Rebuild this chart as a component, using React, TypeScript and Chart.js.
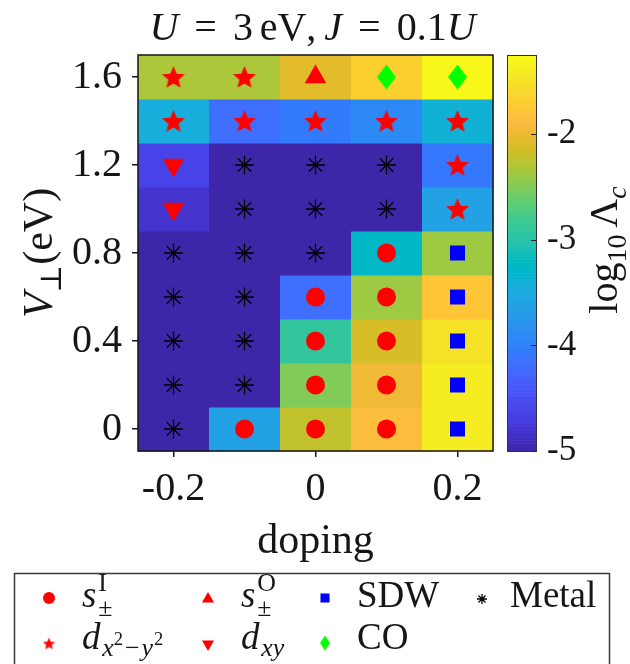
import React, { useEffect, useRef } from 'react';
import { Chart, registerables } from 'chart.js';
import { drawPoint } from 'chart.js/helpers';

Chart.register(...registerables);

// ---------- data ----------
const doping = [-0.2, -0.1, 0, 0.1, 0.2];
const vPerp = [0, 0.2, 0.4, 0.6, 0.8, 1.0, 1.2, 1.4, 1.6];

// log10 Λc for each V⊥ row (columns follow `doping`)
const logL_V00 = [-5.0, -3.61, -2.22, -1.85, -1.40];
const logL_V02 = [-5.0, -5.0, -2.50, -1.96, -1.40];
const logL_V04 = [-5.0, -5.0, -2.90, -2.11, -1.49];
const logL_V06 = [-5.0, -5.0, -4.17, -2.38, -1.76];
const logL_V08 = [-5.0, -5.0, -5.0, -3.24, -2.38];
const logL_V10 = [-4.81, -5.0, -5.0, -5.0, -3.61];
const logL_V12 = [-4.62, -5.0, -5.0, -5.0, -4.08];
const logL_V14 = [-3.45, -4.17, -4.05, -3.91, -3.39];
const logL_V16 = [-2.32, -2.32, -2.05, -1.67, -1.29];
const logLambda = [logL_V00, logL_V02, logL_V04, logL_V06, logL_V08, logL_V10, logL_V12, logL_V14, logL_V16];

// dominant phase per cell
const phase_V00 = ['Metal', 'sI', 'sI', 'sI', 'SDW'];
const phase_V02 = ['Metal', 'Metal', 'sI', 'sI', 'SDW'];
const phase_V04 = ['Metal', 'Metal', 'sI', 'sI', 'SDW'];
const phase_V06 = ['Metal', 'Metal', 'sI', 'sI', 'SDW'];
const phase_V08 = ['Metal', 'Metal', 'Metal', 'sI', 'SDW'];
const phase_V10 = ['dxy', 'Metal', 'Metal', 'Metal', 'dx2'];
const phase_V12 = ['dxy', 'Metal', 'Metal', 'Metal', 'dx2'];
const phase_V14 = ['dx2', 'dx2', 'dx2', 'dx2', 'dx2'];
const phase_V16 = ['dx2', 'dx2', 'sO', 'CO', 'CO'];
const phases = [phase_V00, phase_V02, phase_V04, phase_V06, phase_V08, phase_V10, phase_V12, phase_V14, phase_V16];

const xTicks = [-0.2, 0, 0.2];
const xTickLabels = ['-0.2', '0', '0.2'];
const yTicks = [0, 0.4, 0.8, 1.2, 1.6];
const yTickLabels = ['0', '0.4', '0.8', '1.2', '1.6'];
const cbTicks = [-5, -4, -3, -2];
const cbTickLabels = ['-5', '-4', '-3', '-2'];
const cbMin = -5;
const cbMax = -1.25;

// ---------- styling ----------
const SERIF = "'Liberation Serif', 'DejaVu Serif', serif";
const INK = '#161616';

const PARULA: number[][] = [
  [0.2422, 0.1504, 0.6603], [0.2504, 0.165, 0.7076], [0.2578, 0.1818, 0.7511], [0.2647, 0.1978, 0.7952],
  [0.2706, 0.2147, 0.8364], [0.2751, 0.2342, 0.871], [0.2783, 0.2559, 0.8991], [0.2803, 0.2782, 0.9221],
  [0.2813, 0.3006, 0.9414], [0.281, 0.3228, 0.9579], [0.2795, 0.3447, 0.9717], [0.276, 0.3667, 0.9829],
  [0.2699, 0.3892, 0.9906], [0.2602, 0.4123, 0.9952], [0.244, 0.4358, 0.9988], [0.2206, 0.4603, 0.9973],
  [0.1963, 0.4847, 0.9892], [0.1834, 0.5074, 0.9798], [0.1786, 0.5289, 0.9682], [0.1764, 0.5499, 0.952],
  [0.1687, 0.5703, 0.9359], [0.154, 0.5902, 0.9218], [0.146, 0.6091, 0.9079], [0.138, 0.6276, 0.8973],
  [0.1248, 0.6459, 0.8883], [0.1113, 0.6635, 0.8763], [0.0952, 0.6798, 0.8598], [0.0689, 0.6948, 0.8394],
  [0.0297, 0.7082, 0.8163], [0.0036, 0.7199, 0.7913], [0.0067, 0.73, 0.7659], [0.0433, 0.7394, 0.7394],
  [0.0964, 0.75, 0.712], [0.1408, 0.7584, 0.6842], [0.1717, 0.767, 0.6554], [0.1938, 0.7758, 0.6251],
  [0.2161, 0.7843, 0.5923], [0.247, 0.7918, 0.5567], [0.2906, 0.7973, 0.5188], [0.3406, 0.8008, 0.4789],
  [0.3909, 0.8029, 0.4354], [0.4456, 0.8024, 0.3909], [0.5044, 0.7993, 0.348], [0.5616, 0.7942, 0.3045],
  [0.6174, 0.7876, 0.2612], [0.672, 0.7793, 0.2227], [0.7242, 0.7698, 0.191], [0.7738, 0.7598, 0.1646],
  [0.8203, 0.7498, 0.1535], [0.8634, 0.7406, 0.1596], [0.9035, 0.733, 0.1774], [0.9393, 0.7288, 0.21],
  [0.9728, 0.7298, 0.2394], [0.9956, 0.7434, 0.2371], [0.997, 0.7659, 0.2199], [0.9952, 0.7893, 0.2028],
  [0.9892, 0.8136, 0.1885], [0.9786, 0.8386, 0.1766], [0.9676, 0.8639, 0.1643], [0.961, 0.889, 0.1537],
  [0.9597, 0.9135, 0.1423], [0.9628, 0.9373, 0.1265], [0.9691, 0.9606, 0.1064], [0.9769, 0.9839, 0.0805],
];

function parula(v: number): string {
  let t = (v - cbMin) / (cbMax - cbMin);
  t = Math.max(0, Math.min(1, t));
  const f = t * (PARULA.length - 1);
  const i = Math.min(PARULA.length - 2, Math.floor(f));
  const u = f - i;
  const c = PARULA[i].map((a, k) => Math.round(255 * (a + (PARULA[i + 1][k] - a) * u)));
  return `rgb(${c[0]},${c[1]},${c[2]})`;
}

function makeStar(R: number, ratio: number, color: string): HTMLCanvasElement {
  const s = Math.ceil(R * 2 + 2);
  const c = document.createElement('canvas');
  c.width = s;
  c.height = s;
  const g = c.getContext('2d')!;
  g.fillStyle = color;
  g.beginPath();
  for (let i = 0; i < 10; i++) {
    const a = -Math.PI / 2 + (i * Math.PI) / 5;
    const r = i % 2 ? R * ratio : R;
    g.lineTo(s / 2 + r * Math.cos(a), s / 2 + 1 + r * Math.sin(a));
  }
  g.closePath();
  g.fill();
  return c;
}

function makeDiamond(w: number, h: number, color: string): HTMLCanvasElement {
  const c = document.createElement('canvas');
  c.width = w;
  c.height = h;
  const g = c.getContext('2d')!;
  g.fillStyle = color;
  g.beginPath();
  g.moveTo(w / 2, 0);
  g.lineTo(w, h / 2);
  g.lineTo(w / 2, h);
  g.lineTo(0, h / 2);
  g.closePath();
  g.fill();
  return c;
}

type Seg = { t: string; it?: boolean; sc?: number; dy?: number; dx?: number; over?: boolean };

function fontOf(size: number, it?: boolean) {
  return `${it ? 'italic ' : ''}${size}px ${SERIF}`;
}

function richWidth(ctx: CanvasRenderingContext2D, segs: Seg[], size: number) {
  let w = 0;
  let pending = 0;
  for (const s of segs) {
    ctx.font = fontOf(size * (s.sc ?? 1), s.it);
    const sw = ctx.measureText(s.t).width;
    w += (s.dx ?? 0) * size;
    if (s.over) pending = Math.max(pending, sw);
    else {
      w += Math.max(pending, sw);
      pending = 0;
    }
  }
  return w + pending;
}

function drawRich(ctx: CanvasRenderingContext2D, segs: Seg[], x: number, y: number, size: number, align: 'left' | 'center') {
  let cx = align === 'center' ? x - richWidth(ctx, segs, size) / 2 : x;
  ctx.textAlign = 'left';
  ctx.textBaseline = 'alphabetic';
  let pending = 0;
  for (const s of segs) {
    ctx.font = fontOf(size * (s.sc ?? 1), s.it);
    cx += (s.dx ?? 0) * size;
    const sw = ctx.measureText(s.t).width;
    ctx.fillText(s.t, cx, y + (s.dy ?? 0) * size);
    if (s.over) pending = Math.max(pending, sw);
    else {
      cx += Math.max(pending, sw);
      pending = 0;
    }
  }
}

const titleSegs: Seg[] = [
  { t: 'U', it: true }, { t: '=', dx: 0.4 }, { t: '3', dx: 0.4 }, { t: 'eV', dx: 0.17 }, { t: ',' },
  { t: 'J', it: true, dx: 0.2 }, { t: '=', dx: 0.4 }, { t: '0.1', dx: 0.4 }, { t: 'U', it: true },
];
const yLabelSegs: Seg[] = [{ t: 'V', it: true }, { t: '\u22A5', sc: 0.7, dy: 0.22 }, { t: '(eV)' }];
const cbLabelSegs: Seg[] = [
  { t: 'log' }, { t: '10', sc: 0.7, dy: 0.22 }, { t: '\u039B', dx: 0.17 }, { t: 'c', it: true, sc: 0.7, dy: 0.22 },
];

export default function App() {
  const ref = useRef<HTMLCanvasElement | null>(null);

  useEffect(() => {
    const canvas = ref.current;
    if (!canvas) return;

    const starBig = makeStar(12, 0.45, '#ff0000');
    const starSmall = makeStar(6.5, 0.45, '#ff0000');
    const diamondBig = makeDiamond(19, 25, '#00ff00');
    const diamondSmall = makeDiamond(10, 15, '#00ff00');

    const styles: Record<string, any> = {
      sI: { pointStyle: 'circle', radius: 9.5, legendRadius: 6, rotation: 0, fill: '#ff0000', stroke: '#ff0000', bw: 0 },
      sO: { pointStyle: 'triangle', radius: 12.5, legendRadius: 7, rotation: 0, fill: '#ff0000', stroke: '#ff0000', bw: 0 },
      SDW: { pointStyle: 'rect', radius: 10.6, legendRadius: 6.4, rotation: 0, fill: '#0000ff', stroke: '#0000ff', bw: 0 },
      Metal: { pointStyle: 'star', radius: 9.5, legendRadius: 5, rotation: 0, fill: '#000', stroke: '#000', bw: 1.3 },
      dx2: { pointStyle: starBig, legendStyle: starSmall, radius: 12, legendRadius: 6, rotation: 0, fill: '#ff0000', stroke: '#ff0000', bw: 0 },
      dxy: { pointStyle: 'triangle', radius: 12.5, legendRadius: 7, rotation: 180, fill: '#ff0000', stroke: '#ff0000', bw: 0 },
      CO: { pointStyle: diamondBig, legendStyle: diamondSmall, radius: 12, legendRadius: 7, rotation: 0, fill: '#00ff00', stroke: '#00ff00', bw: 0 },
    };

    const datasets = Object.keys(styles).map((key) => {
      const st = styles[key];
      const pts: { x: number; y: number }[] = [];
      phases.forEach((row, r) => row.forEach((p, c) => {
        if (p === key) pts.push({ x: doping[c], y: vPerp[r] });
      }));
      return {
        label: key,
        data: pts,
        pointStyle: st.pointStyle,
        pointRadius: st.radius,
        pointRotation: st.rotation,
        backgroundColor: st.fill,
        borderColor: st.stroke,
        pointBorderWidth: st.bw,
        borderWidth: st.bw,
      };
    });

    const decor = {
      id: 'decor',
      beforeDatasetsDraw(chart: any) {
        const { ctx, chartArea } = chart;
        const xs = chart.scales.x;
        const ys = chart.scales.y;
        const cb = chart.scales.cb;
        const hx = (doping[1] - doping[0]) / 2;
        const hy = (vPerp[1] - vPerp[0]) / 2;
        ctx.save();
        vPerp.forEach((v, r) => doping.forEach((d, c) => {
          const x0 = Math.round(xs.getPixelForValue(d - hx));
          const x1 = Math.round(xs.getPixelForValue(d + hx));
          const y0 = Math.round(ys.getPixelForValue(v + hy));
          const y1 = Math.round(ys.getPixelForValue(v - hy));
          ctx.fillStyle = parula(logLambda[r][c]);
          ctx.fillRect(x0, y0, x1 - x0 + 0.5, y1 - y0 + 0.5);
        }));
        // colorbar
        const cbL = chartArea.right + 14;
        const cbW = 29;
        const N = 256;
        for (let i = 0; i < N; i++) {
          const v0 = cbMin + ((cbMax - cbMin) * i) / N;
          const v1 = cbMin + ((cbMax - cbMin) * (i + 1)) / N;
          const ya = cb.getPixelForValue(v1);
          const yb = cb.getPixelForValue(v0);
          ctx.fillStyle = parula((v0 + v1) / 2);
          ctx.fillRect(cbL, ya, cbW, yb - ya + 0.6);
        }
        ctx.strokeStyle = '#333';
        ctx.lineWidth = 1;
        ctx.strokeRect(cbL + 0.5, chartArea.top + 0.5, cbW, chartArea.bottom - chartArea.top);
        ctx.strokeStyle = '#222';
        ctx.lineWidth = 1;
        cbTicks.forEach((t) => {
          const y = Math.round(cb.getPixelForValue(t)) + 0.5;
          ctx.beginPath();
          ctx.moveTo(cbL + cbW - 5, y);
          ctx.lineTo(cbL + cbW, y);
          ctx.stroke();
        });
        ctx.restore();
      },
      afterDatasetsDraw(chart: any) {
        const { ctx, chartArea } = chart;
        ctx.save();
        ctx.strokeStyle = INK;
        ctx.lineWidth = 1.5;
        ctx.strokeRect(chartArea.left, chartArea.top, chartArea.right - chartArea.left, chartArea.bottom - chartArea.top);
        ctx.fillStyle = INK;
        // title
        drawRich(ctx, titleSegs, (chartArea.left + chartArea.right) / 2 - 3, 40, 40, 'center');
        // x label
        ctx.font = fontOf(42);
        ctx.textAlign = 'center';
        ctx.textBaseline = 'alphabetic';
        ctx.fillText('doping', (chartArea.left + chartArea.right) / 2, 553);
        // y label
        ctx.save();
        ctx.translate(52, (chartArea.top + chartArea.bottom) / 2);
        ctx.rotate(-Math.PI / 2);
        drawRich(ctx, yLabelSegs, 0, 0, 42, 'center');
        ctx.restore();
        // colorbar label
        ctx.save();
        ctx.translate(617, 250);
        ctx.rotate(-Math.PI / 2);
        drawRich(ctx, cbLabelSegs, 0, 0, 40, 'center');
        ctx.restore();

        // legend
        ctx.strokeStyle = '#3a3a3a';
        ctx.lineWidth = 1.5;
        ctx.strokeRect(14.5, 573.5, 595, 140);
        const LS = 37;
        const legendItems: { key: string; mx: number; my: number; tx: number; ty: number; segs: Seg[] }[] = [
          { key: 'sI', mx: 49, my: 598, tx: 82, ty: 607, segs: [{ t: 's', it: true }, { t: 'I', sc: 0.7, dy: -0.42, dx: 0.05, over: true }, { t: '\u00B1', sc: 0.7, dy: 0.24 }] },
          { key: 'sO', mx: 208, my: 599, tx: 241, ty: 607, segs: [{ t: 's', it: true }, { t: 'O', sc: 0.7, dy: -0.42, dx: 0.05, over: true }, { t: '\u00B1', sc: 0.7, dy: 0.24 }] },
          { key: 'SDW', mx: 325, my: 598, tx: 357, ty: 607, segs: [{ t: 'SDW' }] },
          { key: 'Metal', mx: 482, my: 599, tx: 510, ty: 607, segs: [{ t: 'Metal' }] },
          { key: 'dx2', mx: 49, my: 643, tx: 82, ty: 649, segs: [{ t: 'd', it: true }, { t: 'x', it: true, sc: 0.7, dy: 0.18, dx: 0.05 }, { t: '2', sc: 0.5, dy: -0.12 }, { t: '\u2212', sc: 0.7, dy: 0.18, dx: 0.05 }, { t: 'y', it: true, sc: 0.7, dy: 0.18, dx: 0.05 }, { t: '2', sc: 0.5, dy: -0.12, dx: 0.03 }] },
          { key: 'dxy', mx: 208, my: 644, tx: 241, ty: 649, segs: [{ t: 'd', it: true }, { t: 'xy', it: true, sc: 0.7, dy: 0.18, dx: 0.05 }] },
          { key: 'CO', mx: 325, my: 643, tx: 357, ty: 649, segs: [{ t: 'CO' }] },
        ];
        legendItems.forEach((it) => {
          const st = styles[it.key];
          ctx.fillStyle = st.fill;
          ctx.strokeStyle = st.stroke;
          ctx.lineWidth = st.bw || 1;
          drawPoint(ctx, { pointStyle: st.legendStyle ?? st.pointStyle, radius: st.legendRadius, rotation: st.rotation, borderWidth: st.bw } as any, it.mx, it.my);
          ctx.fillStyle = INK;
          drawRich(ctx, it.segs, it.tx, it.ty, LS, 'left');
        });
        ctx.restore();
      },
    };

    const chart = new Chart(canvas, {
      type: 'scatter',
      data: { datasets: datasets as any },
      options: {
        animation: false,
        responsive: false,
        events: [],
        layout: { padding: { top: 55, left: 0, right: 0, bottom: 0 } },
        plugins: { legend: { display: false }, tooltip: { enabled: false }, title: { display: false } },
        scales: {
          x: {
            type: 'linear',
            position: 'bottom',
            min: -0.25,
            max: 0.25,
            afterFit: (s: any) => { s.height = 213; },
            afterBuildTicks: (s: any) => { s.ticks = xTicks.map((v) => ({ value: v })); },
            ticks: {
              callback: (_v: any, i: number) => xTickLabels[i],
              font: { family: SERIF, size: 40 },
              color: INK,
              padding: 8,
              maxRotation: 0,
              autoSkip: false,
            },
            grid: { drawOnChartArea: false, drawTicks: true, tickLength: 6, color: INK, lineWidth: 1.5 },
            border: { display: false },
          },
          y: {
            type: 'linear',
            position: 'left',
            min: -0.1,
            max: 1.7,
            afterFit: (s: any) => { s.width = 138; },
            afterBuildTicks: (s: any) => { s.ticks = yTicks.map((v) => ({ value: v })); },
            ticks: {
              callback: (_v: any, i: number) => yTickLabels[i],
              font: { family: SERIF, size: 40 },
              color: INK,
              padding: 10,
              autoSkip: false,
            },
            grid: { drawOnChartArea: false, drawTicks: true, tickLength: 6, color: INK, lineWidth: 1.5 },
            border: { display: false },
          },
          cb: {
            type: 'linear',
            axis: 'y',
            position: 'right',
            min: cbMin,
            max: cbMax,
            afterFit: (s: any) => { s.width = 137; },
            afterBuildTicks: (s: any) => { s.ticks = cbTicks.map((v) => ({ value: v })); },
            ticks: {
              callback: (_v: any, i: number) => cbTickLabels[i],
              font: { family: SERIF, size: 35 },
              color: INK,
              padding: 4,
              autoSkip: false,
            },
            grid: { drawOnChartArea: false, drawTicks: true, tickLength: 50, color: 'rgba(0,0,0,0)' },
            border: { display: false },
          },
        },
      },
      plugins: [decor],
    } as any);

    return () => chart.destroy();
  }, []);

  return (
    <div style={{ position: 'fixed', left: 0, top: 0, width: 630, height: 664, background: '#fff' }}>
      <canvas ref={ref} width={630} height={664} style={{ display: 'block', width: 630, height: 664 }} />
    </div>
  );
}
